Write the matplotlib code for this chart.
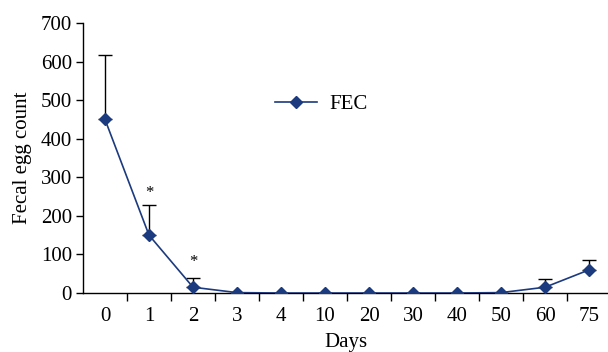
import matplotlib.pyplot as plt
import numpy as np

days = ["0", "1", "2", "3", "4", "10", "20", "30", "40", "50", "60", "75"]
fec = [450, 150, 15, 1, 0, 0, 0, 0, 0, 1, 15, 60]
fec_err = [168, 77, 25, 0, 0, 0, 0, 0, 0, 0, 22, 25]
star_days = [1, 2]
star_heights = [260, 80]

plt.rcParams["font.family"] = ["Liberation Serif", "DejaVu Serif"]
plt.rcParams["font.size"] = 15

navy = "#1c3a7e"

fig = plt.figure(figsize=(6.08, 3.52), dpi=100)
ax = fig.add_axes([0.1365, 0.1676, 0.8635, 0.767])

x = np.arange(len(days))
ax.errorbar(x, fec, yerr=[np.zeros(len(fec)), fec_err], fmt="none",
            ecolor="black", elinewidth=1.0, capsize=5, capthick=1.0, zorder=2)
ax.plot(x, fec, color=navy, linewidth=1.2, marker="D", markersize=6.5,
        markerfacecolor=navy, markeredgecolor=navy, label="FEC", zorder=3)

for d, h in zip(star_days, star_heights):
    ax.text(d, h, "*", ha="center", va="center", fontsize=12)

ax.set_xlim(-0.5, 11.43)
ax.set_ylim(0, 700)
ax.set_yticks(range(0, 701, 100))
ax.set_xticks(x)
ax.set_xticklabels(days)
ax.set_xticks(np.arange(0.5, 11.5, 1), minor=True)
ax.tick_params(axis="x", which="major", length=0, pad=10)
ax.tick_params(axis="x", which="minor", length=6, width=1.0, direction="out")
ax.tick_params(axis="y", length=5, width=1.0, direction="out", pad=3)

for side in ["top", "right"]:
    ax.spines[side].set_visible(False)
ax.spines["left"].set_linewidth(1.0)
ax.spines["bottom"].set_linewidth(1.0)

ax.set_xlabel("Days", labelpad=5)
ax.set_ylabel("Fecal egg count", labelpad=6)

ax.legend(loc="center left", bbox_to_anchor=(0.33, 0.70), frameon=False,
          handlelength=2.0, handletextpad=0.6, fontsize=15)

fig.savefig("out.png", dpi=100)
